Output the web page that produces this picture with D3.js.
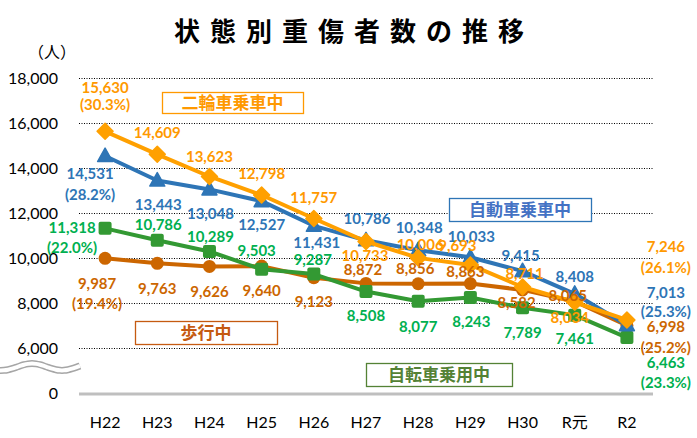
<!DOCTYPE html>
<html><head><meta charset="utf-8">
<script src="https://cdn.jsdelivr.net/npm/d3@7"></script>
<style>body{margin:0;background:#fff}svg{display:block}</style>
</head><body><svg id="c" width="697" height="438"></svg>
<script>
const categories = ["H22","H23","H24","H25","H26","H27","H28","H29","H30","R元","R2"];
const yTicks = [0,6000,8000,10000,12000,14000,16000,18000];
const nirin   = [15630,14609,13623,12798,11757,10733,10006,9693,8711,8034,7246];
const jidosha = [14531,13443,13048,12527,11431,10786,10348,10033,9415,8408,7013];
const jitensha= [11318,10786,10289,9503,9287,8508,8077,8243,7789,7461,6463];
const hoko    = [9987,9763,9626,9640,9123,8872,8856,8863,8582,8065,6998];
const pctNirin = {0:"(30.3%)",10:"(26.1%)"};
const pctJidosha = {0:"(28.2%)",10:"(25.3%)"};
const pctJitensha = {0:"(22.0%)",10:"(23.3%)"};
const pctHoko = {0:"(19.4%)",10:"(25.2%)"};
// label offsets [dx, dy, pctDy]
const offNirin = [[0,-44,-27],[0,-22],[0,-20],[0,-21],[0,-21],[-1,14],[2,-13],[-13,-19],[2,-13],[-5,16],[39,-73,-52]];
const offJidosha = [[-15,18,39],[1,24],[1,24],[0,24],[3,17],[1,-22],[1,-22],[1,-21],[-2,-15],[0,-17],[39,-32,-13]];
const offJitensha = [[-33,-1,19],[1,-16],[1,-15],[-5,-18],[-1,-14],[0,24],[0,25],[1,24],[0,25],[0,24],[39,25,45]];
const offHoko = [[-8,25,45],[0,25],[0,25],[0,25],[0,24],[-3,-14],[-3,-15],[-5,-12],[-6,13],[-7,-6],[39,1,22]];

const svg = d3.select("#c");
const x = d3.scaleBand().domain(categories).range([79,653]).padding(0);
const cx = d => x(d) + x.bandwidth()/2;
const y = d3.scaleLinear().domain([0,6000,18000]).range([393,348,78]);

// title
svg.append("text").attr("x",354).attr("y",41).attr("text-anchor","middle")
  .attr("font-family","Noto Sans CJK JP").attr("font-weight","bold").attr("font-size",26)
  .attr("letter-spacing",10).attr("fill","#000").text("状態別重傷者数の推移");
svg.append("text").attr("x",52).attr("y",58).attr("text-anchor","middle")
  .attr("font-family","Noto Sans CJK JP").attr("font-size",16).attr("fill","#000").text("（人）");

// grid
svg.append("g").selectAll("line").data(yTicks.filter(t=>t>0)).join("line")
  .attr("x1",79).attr("x2",653).attr("y1",d=>y(d)+0.5).attr("y2",d=>y(d)+0.5)
  .attr("stroke","#000").attr("stroke-width",1).attr("stroke-dasharray","1,1.5");
svg.append("line").attr("x1",79).attr("x2",653).attr("y1",y(0)+1).attr("y2",y(0)+1)
  .attr("stroke","#bfbfbf").attr("stroke-width",3);
svg.append("g").selectAll("text").data(yTicks).join("text")
  .attr("x",58).attr("y",d=>y(d)).attr("dy","0.35em").attr("text-anchor","end")
  .attr("font-family","Lato").attr("font-size",16).attr("fill","#000")
  .text(d=>d3.format(",")(d));
svg.append("g").selectAll("text").data(categories).join("text")
  .attr("x",d=>cx(d)).attr("y",422).attr("dy","0.35em").attr("text-anchor","middle")
  .attr("font-family","Lato, 'Noto Sans CJK JP'").attr("font-size",16).attr("fill","#000").text(d=>d);

// break symbol
const wave = d3.line().curve(d3.curveBasis)(d3.range(0,81,4).map(t=>[t, 367 + 3.5*Math.sin((t-17)/60*2*Math.PI + Math.PI)]));
svg.append("path").attr("d",wave).attr("fill","none").attr("stroke","#a6a6a6").attr("stroke-width",7);
svg.append("path").attr("d",wave).attr("fill","none").attr("stroke","#fff").attr("stroke-width",4);

const series = [
  {vals:hoko, line:"#CC6600", lab:"#CC6600", shape:"circle", off:offHoko, pct:pctHoko},
  {vals:jitensha, line:"#339933", lab:"#00B050", shape:"square", off:offJitensha, pct:pctJitensha},
  {vals:jidosha, line:"#2E75B6", lab:"#2E75B6", shape:"triangle", off:offJidosha, pct:pctJidosha},
  {vals:nirin, line:"#FFA000", lab:"#FF9900", shape:"diamond", off:offNirin, pct:pctNirin},
];
const lineGen = d3.line().x((d,i)=>cx(categories[i])).y(d=>y(d));
series.forEach(s=>{
  const g = svg.append("g");
  g.append("path").attr("d",lineGen(s.vals)).attr("fill","none").attr("stroke",s.line)
    .attr("stroke-width",4).attr("stroke-linejoin","round");
  const pts = g.selectAll(".m").data(s.vals).join("g")
    .attr("transform",(d,i)=>`translate(${cx(categories[i])},${y(d)})`);
  if (s.shape==="circle") pts.append("circle").attr("r",6.5).attr("fill",s.line);
  if (s.shape==="square") pts.append("rect").attr("x",-6.5).attr("y",-6.5).attr("width",13).attr("height",13).attr("rx",2).attr("fill",s.line);
  if (s.shape==="triangle") pts.append("path").attr("d","M0,-8 L7.5,5.5 L-7.5,5.5 Z").attr("fill",s.line).attr("stroke",s.line).attr("stroke-width",1.5).attr("stroke-linejoin","round");
  if (s.shape==="diamond") pts.append("path").attr("d","M0,-8 L8,0 L0,8 L-8,0 Z").attr("fill",s.line).attr("stroke",s.line).attr("stroke-width",1.5).attr("stroke-linejoin","round");
  s.series = g;
});
// labels on top
series.forEach(s=>{
  const g = svg.append("g").attr("font-family","Lato").attr("font-weight","bold").attr("font-size",15).attr("fill",s.lab).attr("text-anchor","middle");
  s.vals.forEach((v,i)=>{
    const px = cx(categories[i]), py = y(v), o = s.off[i];
    g.append("text").attr("x",px+o[0]).attr("y",py+o[1]).attr("dy","0.35em").text(d3.format(",")(v));
    if (s.pct[i]) g.append("text").attr("x",px+o[0]).attr("y",py+o[2]).attr("dy","0.35em").text(s.pct[i]);
  });
});

// legend boxes
const legends = [
  {t:"二輪車乗車中", x:162, y:92, w:141, h:21, c:"#FF9900", b:"#FF9900"},
  {t:"自動車乗車中", x:449, y:198, w:142, h:23, c:"#4472C4", b:"#2E75B6"},
  {t:"歩行中", x:135, y:321, w:142, h:23, c:"#C55A11", b:"#C55A11"},
  {t:"自転車乗用中", x:366, y:363, w:146, h:23, c:"#548235", b:"#548235"},
];
legends.forEach(l=>{
  svg.append("rect").attr("x",l.x+0.5).attr("y",l.y+0.5).attr("width",l.w).attr("height",l.h)
    .attr("fill","#fff").attr("stroke",l.b).attr("stroke-width",1.3);
  svg.append("text").attr("x",l.x+l.w/2).attr("y",l.y+l.h/2+1).attr("dy","0.35em").attr("text-anchor","middle")
    .attr("font-family","Noto Sans CJK JP").attr("font-weight","bold").attr("font-size",17)
    .attr("fill",l.c).text(l.t);
});
</script></body></html>
